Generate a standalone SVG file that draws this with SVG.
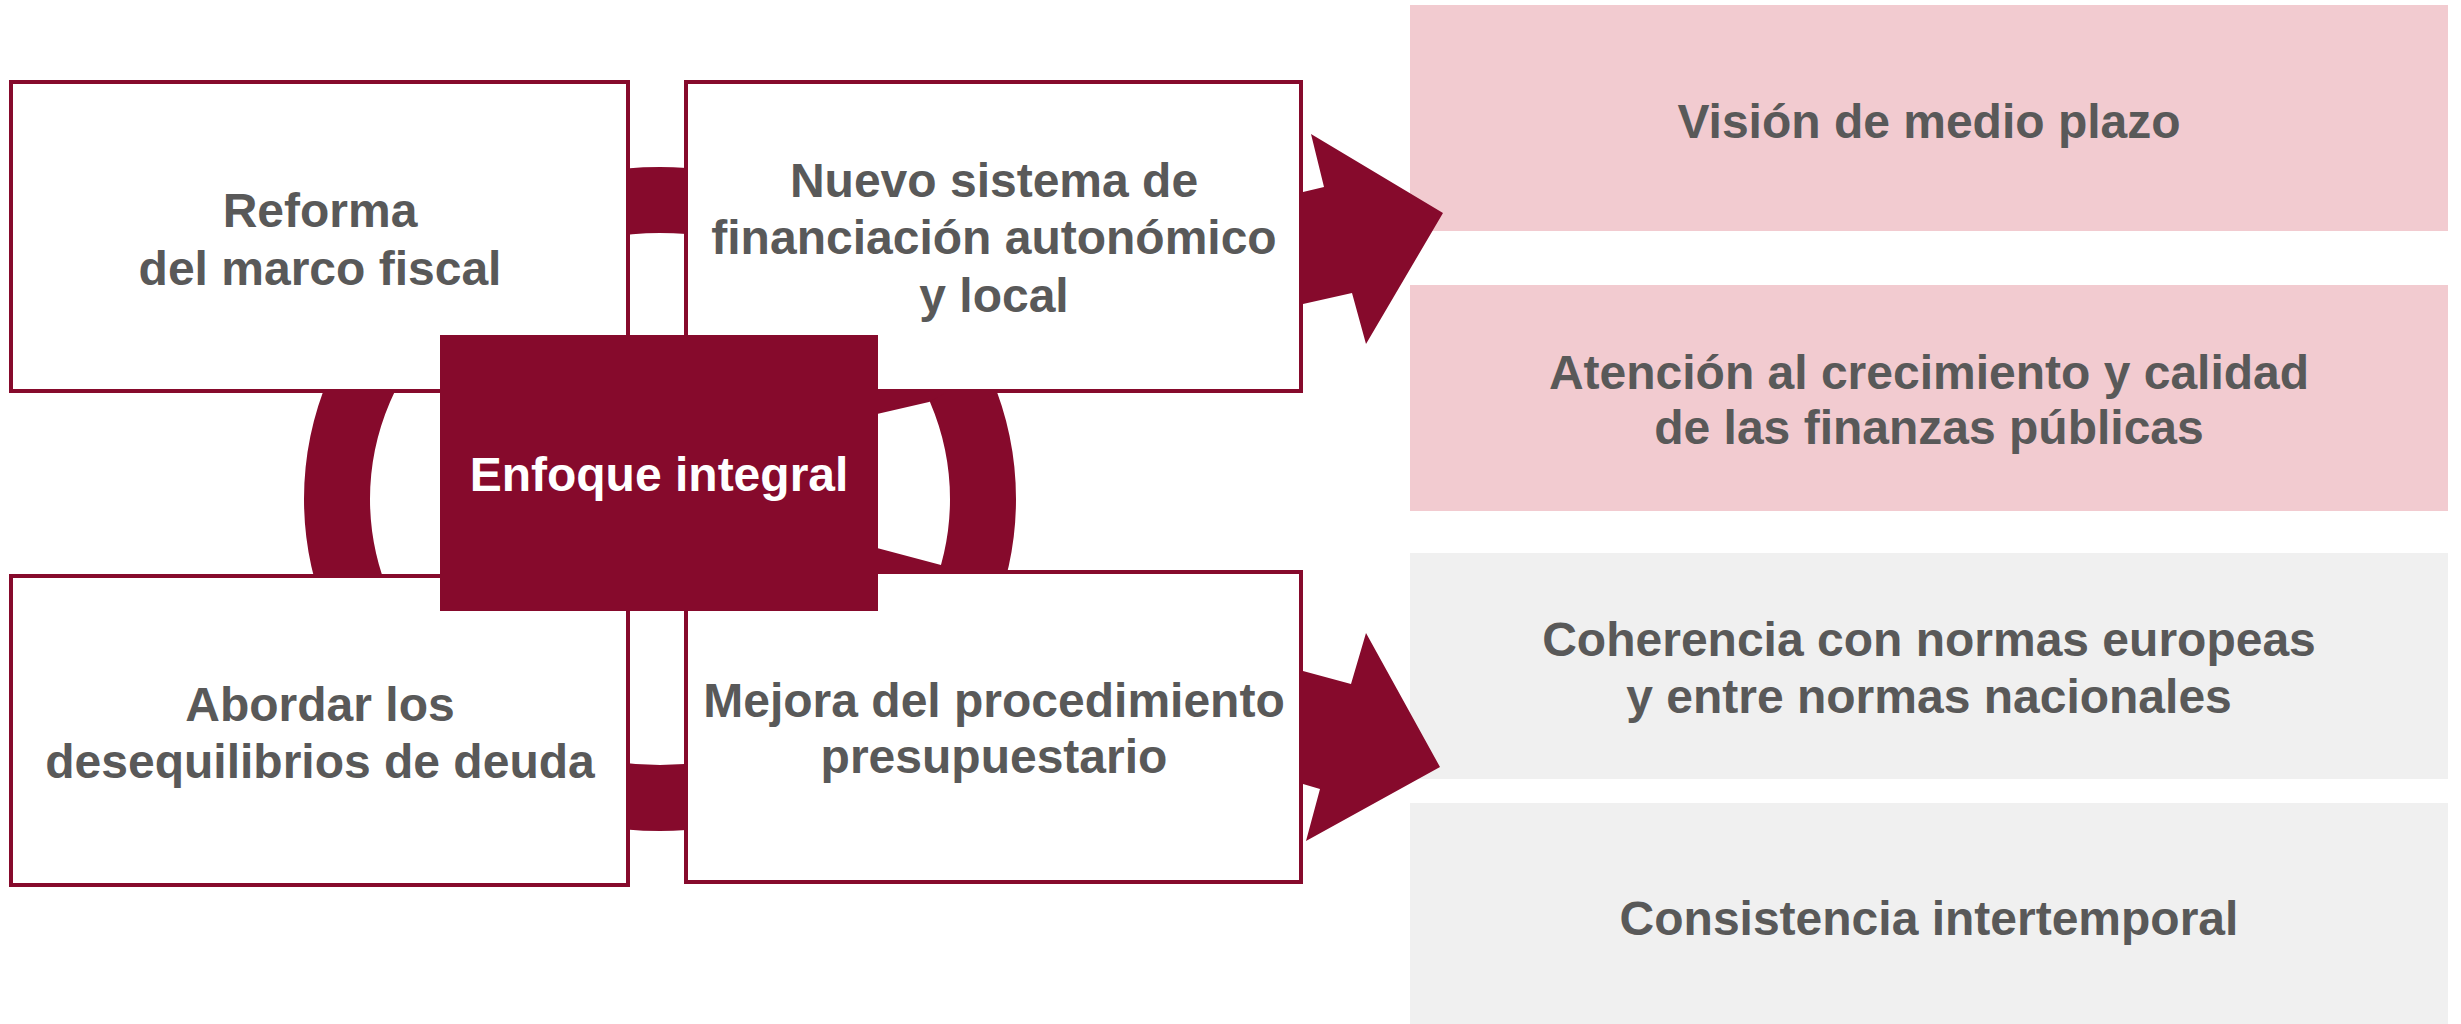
<svg xmlns="http://www.w3.org/2000/svg" width="2461" height="1024" viewBox="0 0 2461 1024">
<style>
.box{fill:#fff;stroke:#860A2C;stroke-width:4}
.mar{fill:#860A2C}
.t{font-family:"Liberation Sans",Arial,sans-serif;font-weight:bold;font-size:48px;fill:#595959;text-anchor:middle}
.w{fill:#fff}
.pink{fill:#F2CBD0}
.gray{fill:#F0F0F0}
</style>
<g id="connectors">
  <ellipse cx="660" cy="499" rx="323" ry="299" fill="none" stroke="#860A2C" stroke-width="66"/>
  <polygon class="mar" points="870,385 960,385 929,402 877,414 870,416"/>
  <polygon class="mar" points="870,546 877,548 941,565 960,580 870,580"/>
</g>
<g id="n1">
  <rect class="box" x="11" y="82" width="617" height="309"/>
  <text class="t" x="320" y="227">Reforma</text>
  <text class="t" x="320" y="285">del marco fiscal</text>
</g>
<g id="n2">
  <rect class="box" x="686" y="82" width="615" height="309"/>
  <text class="t" x="994" y="197">Nuevo sistema de</text>
  <text class="t" x="994" y="254">financiación autonómico</text>
  <text class="t" x="994" y="312">y local</text>
</g>
<g id="n3">
  <rect class="box" x="11" y="576" width="617" height="309"/>
  <text class="t" x="320" y="721">Abordar los</text>
  <text class="t" x="320" y="778">desequilibrios de deuda</text>
</g>
<g id="n4">
  <rect class="box" x="686" y="572" width="615" height="310"/>
  <text class="t" x="994" y="717">Mejora del procedimiento</text>
  <text class="t" x="994" y="773">presupuestario</text>
</g>
<g id="center">
  <rect class="mar" x="440" y="335" width="438" height="276"/>
  <text class="t w" x="659" y="491">Enfoque integral</text>
</g>
<g id="r1">
  <rect class="pink" x="1410" y="5" width="1038" height="226"/>
  <text class="t" x="1929" y="138">Visión de medio plazo</text>
</g>
<g id="r2">
  <rect class="pink" x="1410" y="285" width="1038" height="226"/>
  <text class="t" x="1929" y="389">Atención al crecimiento y calidad</text>
  <text class="t" x="1929" y="444">de las finanzas públicas</text>
</g>
<g id="r3">
  <rect class="gray" x="1410" y="553" width="1038" height="226"/>
  <text class="t" x="1929" y="656">Coherencia con normas europeas</text>
  <text class="t" x="1929" y="713">y entre normas nacionales</text>
</g>
<g id="r4">
  <rect class="gray" x="1410" y="803" width="1038" height="221"/>
  <text class="t" x="1929" y="935">Consistencia intertemporal</text>
</g>
<g id="arrows">
  <polygon class="mar" points="1303,192 1324,187 1311,134 1443,213 1366,344 1352,293 1303,304"/>
  <polygon class="mar" points="1303,671 1351,684 1366,633 1440,767 1306,841 1320,789 1303,784"/>
</g>
</svg>
